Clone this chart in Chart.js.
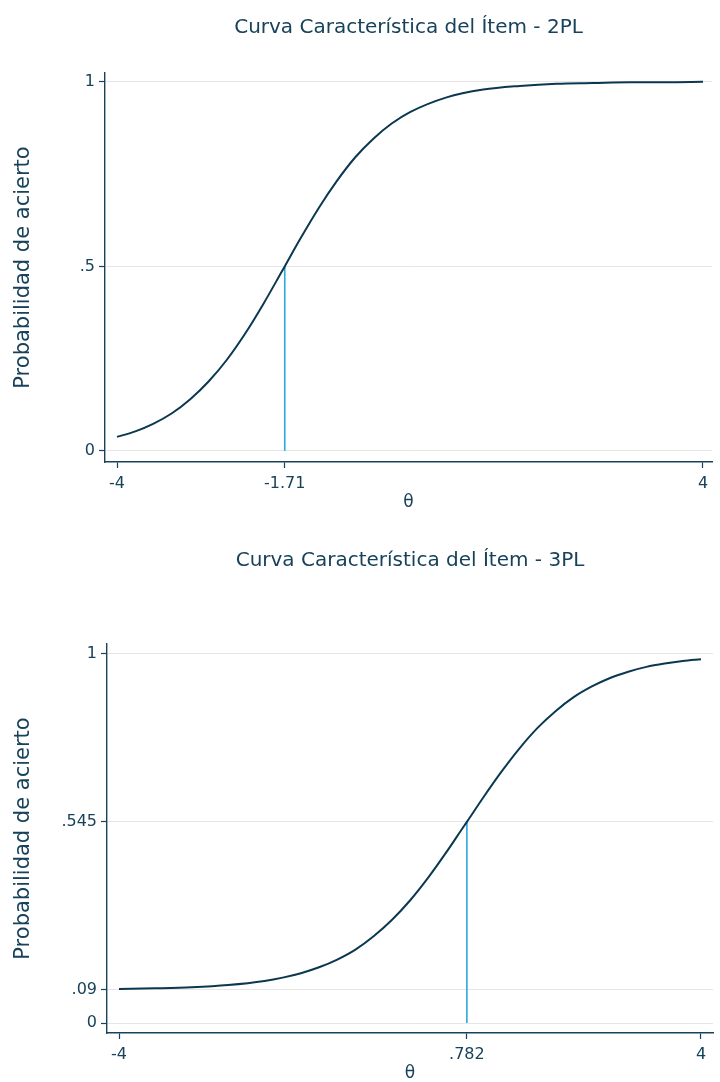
<!DOCTYPE html>
<html>
<head>
<meta charset="utf-8">
<script src="https://cdn.jsdelivr.net/npm/chart.js@4.4.1/dist/chart.umd.min.js"></script>
<style>
  body { margin: 0; background: #fff; }
  canvas { position: absolute; left: 0; }
</style>
</head>
<body>
<canvas id="c2pl" width="720" height="541" style="top:0"></canvas>
<canvas id="c3pl" width="720" height="541" style="top:541px"></canvas>
<script>
// curva 2PL
const theta2 = [-4, -3.75, -3.5, -3.25, -3, -2.75, -2.5, -2.25, -2, -1.75, -1.71, -1.5, -1.25, -1, -0.75, -0.5, -0.25, 0, 0.5, 1, 1.5, 2, 2.5, 3, 3.5, 4];
const prob2 = [0.038, 0.053, 0.074, 0.102, 0.140, 0.188, 0.247, 0.318, 0.399, 0.486, 0.5, 0.574, 0.657, 0.731, 0.795, 0.846, 0.887, 0.918, 0.958, 0.979, 0.989, 0.995, 0.997, 0.999, 0.999, 1.0];
const b2 = -1.71, pb2 = 0.5;
const yTicks2 = [0, 0.5, 1];
const yLabels2 = ['0', '.5', '1'];
const xTicks2 = [-4, -1.71, 4];
const xLabels2 = ['-4', '-1.71', '4'];

// curva 3PL
const theta3 = [-4, -3.5, -3, -2.5, -2, -1.75, -1.5, -1.25, -1, -0.75, -0.5, -0.25, 0, 0.25, 0.5, 0.75, 0.782, 1, 1.25, 1.5, 1.75, 2, 2.25, 2.5, 2.75, 3, 3.25, 3.5, 3.75, 4];
const prob3 = [0.092, 0.094, 0.097, 0.103, 0.114, 0.123, 0.135, 0.151, 0.172, 0.199, 0.235, 0.279, 0.332, 0.394, 0.463, 0.536, 0.545, 0.609, 0.679, 0.743, 0.799, 0.845, 0.883, 0.912, 0.935, 0.952, 0.965, 0.974, 0.981, 0.986];
const b3 = 0.782, pb3 = 0.545;
const yTicks3 = [0, 0.09, 0.545, 1];
const yLabels3 = ['0', '.09', '.545', '1'];
const xTicks3 = [-4, 0.782, 4];
const xLabels3 = ['-4', '.782', '4'];

const FONT = '"DejaVu Sans", sans-serif';
const TEXT = '#17425a';
const CURVE = '#0b3850';
const LINEA = '#2aa8e0';
const GRID = '#e6e6e6';

// titulo centrado sobre el area del grafico
const tituloPlugin = {
    id: 'titulo',
    afterDraw(chart, args, opts) {
        const { ctx, chartArea } = chart;
        ctx.save();
        ctx.fillStyle = TEXT;
        ctx.font = '20px ' + FONT;
        ctx.textAlign = 'center';
        ctx.textBaseline = 'middle';
        ctx.fillText(opts.text, (chartArea.left + chartArea.right) / 2, opts.y);
        ctx.restore();
    }
};

function makeChart(id, p) {
    const ctx = document.getElementById(id).getContext('2d');
    return new Chart(ctx, {
        type: 'line',
        data: {
            datasets: [{
                data: p.theta.map((t, i) => ({ x: t, y: p.prob[i] })),
                borderColor: CURVE,
                borderWidth: 2,
                pointRadius: 0,
                cubicInterpolationMode: 'monotone',
                fill: false,
                order: 1
            }, {
                data: [{ x: p.b, y: 0 }, { x: p.b, y: p.pb }],
                borderColor: LINEA,
                borderWidth: 1.6,
                pointRadius: 0,
                fill: false,
                order: 2
            }]
        },
        plugins: [tituloPlugin],
        options: {
            responsive: false,
            animation: false,
            layout: { padding: { left: 0, right: p.right, top: p.top, bottom: 0 } },
            plugins: {
                legend: { display: false },
                tooltip: { enabled: false },
                title: { display: false },
                titulo: { text: p.title, y: p.titleY }
            },
            scales: {
                x: {
                    type: 'linear',
                    min: p.xmin, max: p.xmax,
                    afterBuildTicks: s => { s.ticks = p.xTicks.map(v => ({ value: v })); },
                    afterFit: s => { s.height = p.xHeight; },
                    ticks: {
                        autoSkip: false, maxRotation: 0, padding: 6,
                        color: TEXT, font: { family: FONT, size: 16 },
                        callback: (v, i) => p.xLabels[i]
                    },
                    grid: { drawOnChartArea: false, drawTicks: true, tickLength: 6, tickColor: TEXT, tickWidth: 1.2 },
                    border: { color: TEXT, width: 1.4 },
                    title: {
                        display: true, text: 'θ', color: TEXT,
                        font: { family: FONT, size: 17, lineHeight: 1 },
                        padding: { top: 0, bottom: p.thetaPad }
                    }
                },
                y: {
                    type: 'linear',
                    min: p.ymin, max: p.ymax,
                    afterBuildTicks: s => { s.ticks = p.yTicks.map(v => ({ value: v })); },
                    afterFit: s => { s.width = p.yWidth; },
                    ticks: {
                        padding: 4,
                        color: TEXT, font: { family: FONT, size: 16 },
                        callback: (v, i) => p.yLabels[i]
                    },
                    grid: { color: GRID, lineWidth: 1, drawTicks: true, tickLength: 6, tickColor: TEXT, tickWidth: 1.2 },
                    border: { color: TEXT, width: 1.4 },
                    title: {
                        display: true, text: 'Probabilidad de acierto', color: TEXT,
                        font: { family: FONT, size: 21, lineHeight: 1.2 },
                        padding: { top: 11, bottom: 0 }
                    }
                }
            }
        }
    });
}

makeChart('c2pl', {
    title: 'Curva Característica del Ítem - 2PL', titleY: 28,
    theta: theta2, prob: prob2, b: b2, pb: pb2,
    xTicks: xTicks2, xLabels: xLabels2, yTicks: yTicks2, yLabels: yLabels2,
    xmin: -4.164, xmax: 4.123, ymin: -0.030, ymax: 1.024,
    top: 73, right: 8, yWidth: 105, xHeight: 79, thetaPad: 30
});

makeChart('c3pl', {
    title: 'Curva Característica del Ítem - 3PL', titleY: 20,
    theta: theta3, prob: prob3, b: b3, pb: pb3,
    xTicks: xTicks3, xLabels: xLabels3, yTicks: yTicks3, yLabels: yLabels3,
    xmin: -4.165, xmax: 4.165, ymin: -0.027, ymax: 1.027,
    top: 103, right: 7, yWidth: 107, xHeight: 49, thetaPad: 0
});
</script>
</body>
</html>
